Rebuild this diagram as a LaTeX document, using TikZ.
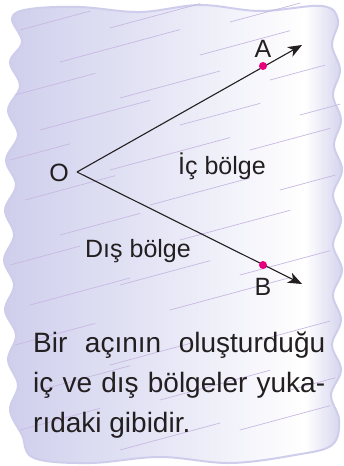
\documentclass[tikz,border=0pt]{standalone}
\usepackage{fontspec}
\setmainfont{Liberation Sans}
\usetikzlibrary{arrows.meta}
\definecolor{lavL}{RGB}{206,206,236}
\definecolor{lavM}{RGB}{230,230,246}
\definecolor{lavR}{RGB}{210,210,237}
\definecolor{scrib}{RGB}{200,184,226}
\definecolor{dotpink}{RGB}{230,0,126}
\definecolor{ink}{RGB}{35,31,32}
\tikzset{
  scribble/.style={draw=scrib, line width=0.7pt, line cap=round},
  ray/.style={draw=ink, line width=1.1pt, -{Stealth[length=14pt,width=11pt,inset=4pt]}},
  pt/.style={circle, fill=dotpink, inner sep=0pt, minimum size=8pt},
  lbl/.style={text=ink, font=\fontsize{25}{29}\selectfont, inner sep=0pt},
  body/.style={text=ink, font=\fontsize{28}{32}\selectfont, inner sep=0pt, anchor=base west}
}
\begin{document}
\begin{tikzpicture}[x=1pt,y=-1pt]
\useasboundingbox (0,0) rectangle (344,466);
\fill[white] (0,0) rectangle (344,466);
\begin{scope}
\clip plot[smooth cycle, tension=0.6] coordinates {
 (12,18) (22,42) (10,62) (20,86) (8,110) (18,135) (6,160) (16,185) (5,210) (14,235)
 (4,260) (14,285) (5,310) (16,335) (8,360) (18,385) (10,410) (22,435) (34,458)
 (90,463) (160,457) (230,463) (295,455) (332,445)
 (339,420) (331,395) (341,370) (332,345) (341,320) (333,295) (342,270) (333,245)
 (341,220) (333,195) (342,170) (334,145) (341,120) (333,95) (340,70) (332,45) (338,20) (322,6)
 (260,11) (200,5) (140,12) (80,7) (30,9)};
\shade[left color=lavL, right color=lavM] (0,0) rectangle (160,466);
\shade[left color=lavM, right color=white] (160,0) rectangle (305,466);
\shade[left color=white, right color=lavR] (305,0) rectangle (344,466);
\end{scope}
\draw[lavL, line width=2pt] plot[smooth cycle, tension=0.6] coordinates {
 (12,18) (22,42) (10,62) (20,86) (8,110) (18,135) (6,160) (16,185) (5,210) (14,235)
 (4,260) (14,285) (5,310) (16,335) (8,360) (18,385) (10,410) (22,435) (34,458)
 (90,463) (160,457) (230,463) (295,455) (332,445)
 (339,420) (331,395) (341,370) (332,345) (341,320) (333,295) (342,270) (333,245)
 (341,220) (333,195) (342,170) (334,145) (341,120) (333,95) (340,70) (332,45) (338,20) (322,6)
 (260,11) (200,5) (140,12) (80,7) (30,9)};
% scribble strokes
\foreach \x/\y/\l in {
 20/30/70, 110/28/90, 230/22/70, 60/62/120, 200/55/90, 15/95/80, 120/98/100, 270/80/55,
 40/130/110, 180/125/80, 10/160/60, 110/170/120, 250/150/80, 25/200/90, 150/205/100,
 280/190/55, 60/235/80, 180/240/110, 10/265/70, 120/285/90, 240/275/90, 30/305/100,
 170/310/120, 15/345/80, 110/365/80, 260/340/70, 40/390/90, 160/400/110, 20/430/80,
 120/450/100, 240/430/90, 290/390/45, 300/115/40}
  \draw[scribble] (\x,\y) -- ++(\l,{-0.27*\l});
% angle
\coordinate (O) at (77,172);
\coordinate (At) at (302,45);
\coordinate (Bt) at (302,284);
\draw[ray] (O) -- (At);
\draw[ray] (O) -- (Bt);
\node[pt] (A) at (263,66) {};
\node[pt] (B) at (263,265) {};
\node[lbl] (lA) at (263,49) {A};
\node[lbl] (lB) at (263,287) {B};
\node[lbl] (lO) at (59,173) {O};
\node[lbl] (ic) at (222,166) {İç bölge};
\node[lbl] (dis) at (138,251) {Dış bölge};
% text
\node[body] (t1) at (33,352) {\makebox[292pt][s]{Bir açının oluşturduğu}};
\node[body] (t2) at (33,392) {\makebox[292pt][s]{iç ve dış bölgeler yuka-}};
\node[body] (t3) at (33,432) {rıdaki gibidir.};
\end{tikzpicture}
\end{document}
